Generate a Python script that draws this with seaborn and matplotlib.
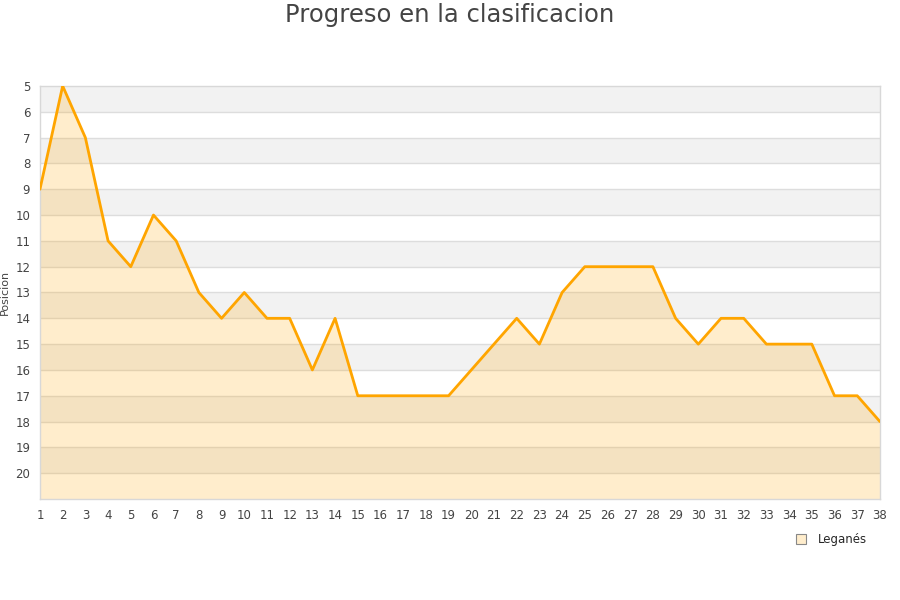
import pandas as pd
import matplotlib.pyplot as plt
import seaborn as sns
from matplotlib.lines import Line2D

# --- Data ---
jornadas = list(range(1, 39))
posiciones = [9, 5, 7, 11, 12, 10, 11, 13, 14, 13, 14, 14, 16, 14, 17, 17, 17, 17, 17,
              16, 15, 14, 15, 13, 12, 12, 12, 12, 14, 15, 14, 14, 15, 15, 15, 17, 17, 18]
equipo = 'Leganés'
y_ticks = list(range(5, 21))

df = pd.DataFrame({'Jornada': jornadas, 'Posicion': posiciones})

sns.set_style('white')
plt.rcParams['font.family'] = ['DejaVu Sans']

fig = plt.figure(figsize=(9, 6), dpi=100)
ax = fig.add_axes([0.0444, 0.1683, 0.9333, 0.6884])

# Alternating horizontal bands
for i, y0 in enumerate(range(5, 21)):
    if i % 2 == 0:
        ax.axhspan(y0, y0 + 1, color='#f2f2f2', zorder=0, lw=0)
for y0 in range(6, 21):
    ax.axhline(y0, color='#dddddd', lw=1, zorder=1)

# Area + line
ax.fill_between(df['Jornada'], df['Posicion'], 21, color='#ffa500', alpha=0.2, lw=0, zorder=2)
sns.lineplot(data=df, x='Jornada', y='Posicion', color='#ffa500', lw=2.0, ax=ax, zorder=3)

ax.set_xlim(1, 38)
ax.set_ylim(21, 5)
ax.set_xticks(jornadas)
ax.set_yticks(y_ticks)
ax.tick_params(axis='both', labelsize=8.5, colors='#444444', length=0, pad=7)
ax.set_xlabel('')
ax.set_ylabel('Posicion', fontsize=8, color='#444444', labelpad=4)

for side in ['left', 'bottom', 'top', 'right']:
    ax.spines[side].set_color('#d8d8d8')
    ax.spines[side].set_linewidth(1)

fig.suptitle('Progreso en la clasificacion', fontsize=17.5, color='#444444', y=0.995)

handle = Line2D([], [], marker='s', linestyle='None', markersize=7,
                markerfacecolor='#ffedcc', markeredgecolor='#888888', markeredgewidth=0.8)
fig.legend([handle], [equipo], loc='center', bbox_to_anchor=(0.92, 0.101),
           frameon=False, fontsize=8.5, handletextpad=0.4)

fig.savefig('out.png', dpi=100)
